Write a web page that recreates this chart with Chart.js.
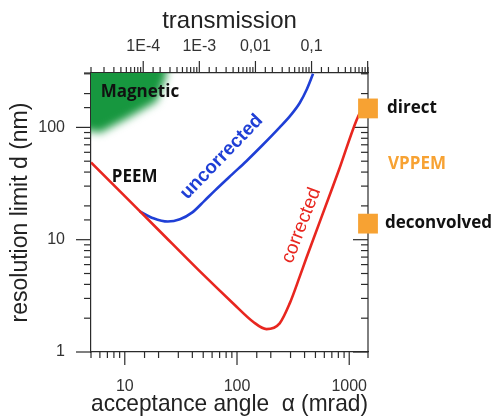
<!DOCTYPE html>
<html>
<head>
<meta charset="utf-8">
<script src="https://cdn.jsdelivr.net/npm/chart.js@4.4.1/dist/chart.umd.min.js"></script>
<style>
  html, body { margin: 0; padding: 0; background: #fff; }
  #wrap { width: 498px; height: 419px; }
</style>
</head>
<body>
<div id="wrap"><canvas id="resChart" width="498" height="419"></canvas></div>
<script>
// acceptance angle alpha (mrad) -> resolution limit d (nm)
const correctedAlpha = [5, 10, 20, 46, 92, 139, 183, 240, 295, 362, 415, 696, 809, 1161, 1330];
const correctedD     = [48.8, 24.4, 12.2, 5.3, 2.72, 1.86, 1.6, 1.8, 2.71, 4.69, 6.87, 27.7, 41.7, 116, 153];

const uncorrectedAlpha = [13.6, 18, 24.2, 31, 40, 51.5, 63.8, 90, 121, 170, 240, 300, 362, 420, 476];
const uncorrectedD     = [17.9, 15.5, 14.5, 15.2, 17.5, 22.3, 27.5, 38, 50, 70, 100, 128, 165, 220, 300];

// VPPEM results sit on the right axis
const vppemLabels = ['direct', 'deconvolved'];
const vppemD = [147.5, 13.9];

// "Magnetic" PEEM region (outline in alpha / d)
const magneticAlpha = [3.5, 23.5, 23.5, 19.3, 10.6, 6.0, 4.5, 3.5];
const magneticD     = [500, 500, 290, 171, 121, 89.5, 95, 95];

// axes
const alphaMin = 5, alphaMax = 1470;
const dMin = 1, dMax = 305;
const alphaTickLabels = [10, 100, 1000];
const dTickLabels = [1, 10, 100];
const transTicks = [1e-4, 1e-3, 0.01, 0.1];
const transLabels = ['1E-4', '1E-3', '0,01', '0,1'];
// transmission grows with alpha^2; 1E-4 sits at alpha = 14.6 mrad
const transRefAlpha = 14.6, transRefValue = 1e-4;
const transAt = a => transRefValue * Math.pow(a / transRefAlpha, 2);

const sans = '"Liberation Sans", Arial, sans-serif';
const bold = '"Open Sans", "Liberation Sans", sans-serif';
const axisColor = '#2b2b2b';
const red = '#e8261f', blue = '#1f3fd6', orange = '#f7a233', green = '#17973f';

const isDecade = v => Math.abs(Math.log10(v) - Math.round(Math.log10(v))) < 1e-6;
const near = (a, b) => Math.abs(a / b - 1) < 1e-6;

function drawTicks(ctx, scale, side, edge, majorLen, minorLen) {
  scale.ticks.forEach(t => {
    const p = scale.getPixelForValue(t.value);
    const len = isDecade(t.value) ? majorLen : minorLen;
    ctx.beginPath();
    if (side === 'bottom') { ctx.moveTo(p, edge); ctx.lineTo(p, edge + len); }
    if (side === 'top') { ctx.moveTo(p, edge); ctx.lineTo(p, edge - len); }
    if (side === 'left') { ctx.moveTo(edge, p); ctx.lineTo(edge - len, p); }
    if (side === 'right') { ctx.moveTo(edge, p); ctx.lineTo(edge - len, p); }
    ctx.stroke();
  });
}

function label(ctx, text, x, y, font, color, align, rot) {
  ctx.save();
  ctx.translate(x, y);
  if (rot) ctx.rotate(rot * Math.PI / 180);
  ctx.font = font;
  ctx.fillStyle = color;
  ctx.textAlign = align;
  ctx.textBaseline = 'middle';
  ctx.fillText(text, 0, 0);
  ctx.restore();
}

const decorations = {
  id: 'decorations',
  beforeDatasetsDraw(chart) {
    const {ctx, chartArea: a, scales: {x, y, x2}} = chart;
    // magnetic PEEM blob
    ctx.save();
    ctx.beginPath();
    ctx.rect(a.left, a.top, a.right - a.left, a.bottom - a.top);
    ctx.clip();
    ctx.filter = 'blur(4px)';
    ctx.fillStyle = green;
    ctx.beginPath();
    magneticAlpha.forEach((v, i) => {
      const px = x.getPixelForValue(v), py = y.getPixelForValue(magneticD[i]);
      if (i) ctx.lineTo(px, py); else ctx.moveTo(px, py);
    });
    ctx.closePath();
    ctx.fill();
    ctx.restore();

    // tick marks on all four sides, right axis line
    ctx.save();
    ctx.strokeStyle = axisColor;
    ctx.lineWidth = 1.2;
    drawTicks(ctx, x, 'bottom', a.bottom, 13, 6);
    drawTicks(ctx, x2, 'top', a.top, 12, 6);
    drawTicks(ctx, y, 'left', a.left, 15, 7);
    drawTicks(ctx, y, 'right', a.right, 15, 7);
    ctx.beginPath();
    ctx.moveTo(a.right, a.top);
    ctx.lineTo(a.right, a.bottom);
    ctx.stroke();
    ctx.restore();
  },
  afterDatasetsDraw(chart) {
    const {ctx, chartArea: a, scales: {x, y}} = chart;
    label(ctx, 'Magnetic', x.getPixelForValue(6.1), y.getPixelForValue(208), 'bold 17px ' + bold, '#111', 'left');
    label(ctx, 'PEEM', x.getPixelForValue(7.66), y.getPixelForValue(36.3), 'bold 17px ' + bold, '#111', 'left');
    label(ctx, 'uncorrected', x.getPixelForValue(73), y.getPixelForValue(54.5), 'bold 19px ' + sans, blue, 'center', -46);
    label(ctx, 'corrected', x.getPixelForValue(375), y.getPixelForValue(13.4), '19px ' + sans, red, 'center', -69);
    label(ctx, vppemLabels[0], a.right + 19, y.getPixelForValue(vppemD[0]), 'bold 17px ' + bold, '#111', 'left');
    label(ctx, 'VPPEM', a.right + 20, y.getPixelForValue(47.1), 'bold 17px ' + bold, orange, 'left');
    label(ctx, vppemLabels[1], a.right + 17, y.getPixelForValue(vppemD[1]), 'bold 17px ' + bold, '#111', 'left');
  }
};

new Chart(document.getElementById('resChart'), {
  type: 'line',
  data: {
    datasets: [
      {
        label: 'VPPEM',
        type: 'scatter',
        data: vppemD.map(d => ({x: alphaMax, y: d})),
        pointStyle: 'rect',
        pointRadius: 14,
        backgroundColor: orange,
        borderWidth: 0,
        clip: false
      },
      {
        label: 'corrected',
        data: correctedAlpha.map((a, i) => ({x: a, y: correctedD[i]})),
        borderColor: red,
        borderWidth: 2.6,
        pointRadius: 0,
        cubicInterpolationMode: 'monotone',
        fill: false
      },
      {
        label: 'uncorrected',
        data: uncorrectedAlpha.map((a, i) => ({x: a, y: uncorrectedD[i]})),
        borderColor: blue,
        borderWidth: 2.6,
        pointRadius: 0,
        cubicInterpolationMode: 'monotone',
        fill: false
      }
    ]
  },
  options: {
    responsive: false,
    animation: false,
    layout: { padding: { right: 130 } },
    plugins: { legend: { display: false }, tooltip: { enabled: false } },
    scales: {
      x: {
        type: 'logarithmic',
        position: 'bottom',
        min: alphaMin,
        max: alphaMax,
        afterFit: s => { s.height = 67; },
        grid: { display: false, drawTicks: false },
        border: { display: true, color: axisColor, width: 1.2 },
        ticks: {
          autoSkip: false, maxRotation: 0, padding: 25,
          color: '#333', font: { family: sans, size: 16 },
          callback: v => alphaTickLabels.some(t => near(t, v)) ? String(v) : ''
        },
        title: {
          display: true, text: 'acceptance angle  α (mrad)', color: '#222',
          font: { family: sans, size: 24 }, padding: { top: 0, bottom: 0 }
        }
      },
      x2: {
        type: 'logarithmic',
        position: 'top',
        min: transAt(alphaMin),
        max: transAt(alphaMax),
        afterFit: s => { s.height = 73; },
        grid: { display: false, drawTicks: false },
        border: { display: true, color: axisColor, width: 1.2 },
        ticks: {
          autoSkip: false, maxRotation: 0, padding: 17,
          color: '#333', font: { family: sans, size: 16 },
          callback: v => {
            const i = transTicks.findIndex(t => near(t, v));
            return i >= 0 ? transLabels[i] : '';
          }
        },
        title: {
          display: true, text: 'transmission', color: '#222',
          font: { family: sans, size: 24 }, padding: { top: 7, bottom: 0 }
        }
      },
      y: {
        type: 'logarithmic',
        position: 'left',
        min: dMin,
        max: dMax,
        afterFit: s => { s.width = 91; },
        grid: { display: false, drawTicks: false },
        border: { display: true, color: axisColor, width: 1.2 },
        ticks: {
          autoSkip: false, padding: 26,
          color: '#333', font: { family: sans, size: 16 },
          callback: v => dTickLabels.some(t => near(t, v)) ? String(v) : ''
        },
        title: {
          display: true, text: 'resolution limit d (nm)', color: '#222',
          font: { family: sans, size: 23 }, padding: { top: 7, bottom: 0 }
        }
      }
    }
  },
  plugins: [decorations]
});
</script>
</body>
</html>
